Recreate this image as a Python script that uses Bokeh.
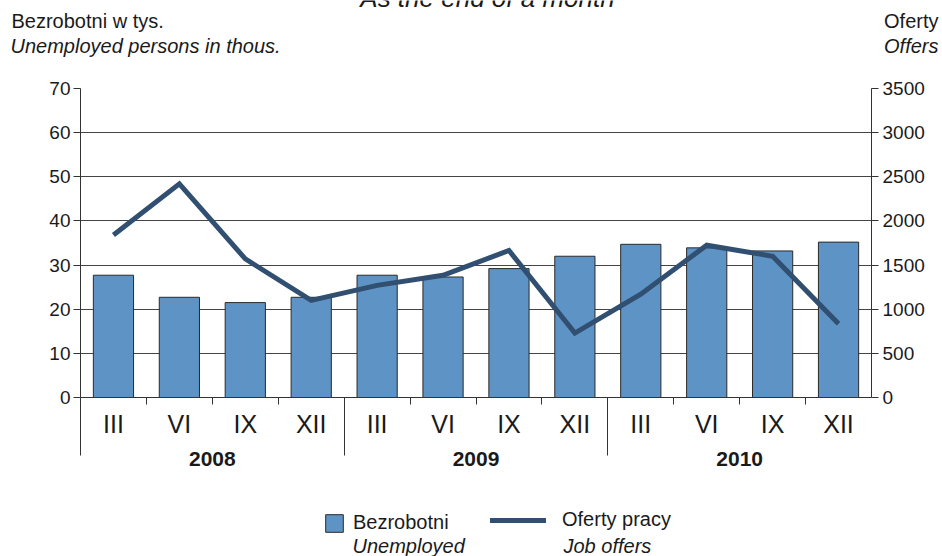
from bokeh.plotting import figure
from bokeh.layouts import column
from bokeh.models import (Range1d, LinearAxis, FixedTicker, Label,
                          Legend, LegendItem, ColumnDataSource)
from bokeh.embed import file_html
from bokeh.resources import INLINE

# ---------------- data ----------------
years = ["2008", "2009", "2010"]
months = ["III", "VI", "IX", "XII"]
unemployed = [27.7, 22.7, 21.5, 22.7, 27.7, 27.3, 29.2, 32.0, 34.7, 33.9, 33.2, 35.2]
offers = [1840, 2420, 1570, 1100, 1270, 1385, 1665, 730, 1170, 1725, 1600, 835]
left_ticks = [0, 10, 20, 30, 40, 50, 60, 70]
right_ticks = [0, 500, 1000, 1500, 2000, 2500, 3000, 3500]

# ---------------- layout (page pixel coordinates) ----------------
W, H = 942, 556
FX0, FX1, FY0, FY1 = 80, 871, 88, 397
TOP_END = 76
MAIN_END = 488
NCAT = len(years) * len(months)

BAR = "#5E93C5"
LINE = "#314F70"
TXT = "#1a1a1a"
AX = "#333333"
FONT = "Liberation Sans"


def blank_fig(y0, y1):
    f = figure(width=W, height=y1 - y0, output_backend="svg",
               toolbar_location=None, x_axis_type=None, y_axis_type=None,
               x_range=Range1d(0, W), y_range=Range1d(y1, y0),
               min_border=0, frame_align=False)
    f.outline_line_color = None
    f.grid.visible = False
    f.background_fill_color = "white"
    f.border_fill_color = "white"
    return f


def lab(f, text, px, py, align="left", style="normal", size="20px",
        base="middle"):
    f.add_layout(Label(x=px, y=py, text=text, text_align=align,
                       text_baseline=base, text_font=FONT,
                       text_font_size=size, text_font_style=style,
                       text_color=TXT))


# ---------------- header ----------------
top = blank_fig(0, TOP_END)
lab(top, "As the end of a month", 487, -3, align="center", style="italic",
    size="26px", base="alphabetic")
lab(top, "Bezrobotni w tys.", 11, 20)
lab(top, "Unemployed persons in thous.", 10, 45, style="italic")
lab(top, "Oferty", 938, 20, align="right")
lab(top, "Offers", 938, 45, align="right", style="italic")

# ---------------- main chart ----------------
p = figure(width=W, height=MAIN_END - TOP_END, output_backend="svg",
           toolbar_location=None, frame_align=False,
           x_range=Range1d(0, NCAT), y_range=Range1d(0, left_ticks[-1]),
           min_border_left=FX0, min_border_right=W - FX1,
           min_border_top=FY0 - TOP_END, min_border_bottom=MAIN_END - FY1)
p.outline_line_color = None
p.background_fill_color = "white"
p.border_fill_color = "white"
p.extra_y_ranges = {"off": Range1d(0, right_ticks[-1])}

p.xgrid.visible = False
p.ygrid.ticker = FixedTicker(ticks=left_ticks)
p.ygrid.grid_line_color = "#444444"
p.ygrid.grid_line_width = 1


def style_y(a, standoff):
    a.major_tick_out = 7
    a.major_tick_in = 0
    a.minor_tick_out = 0
    a.axis_line_color = AX
    a.major_tick_line_color = AX
    a.major_label_text_font = FONT
    a.major_label_text_font_size = "19px"
    a.major_label_text_color = TXT
    a.major_label_standoff = standoff


ya = p.yaxis[0]
ya.ticker = FixedTicker(ticks=left_ticks)
style_y(ya, 3)

ra = LinearAxis(y_range_name="off", ticker=FixedTicker(ticks=right_ticks))
style_y(ra, 4)
p.add_layout(ra, "right")

# month axis (next to frame)
xc = [i + 0.5 for i in range(NCAT)]
year_bounds = [i * len(months) for i in range(len(years))]
month_bounds = [i for i in range(1, NCAT) if i % len(months) != 0]
xa = p.xaxis[0]
xa.ticker = FixedTicker(ticks=xc, minor_ticks=month_bounds)
xa.major_label_overrides = {c: m for c, m in zip(xc, months * len(years))}
xa.major_tick_out = 7
xa.major_tick_in = 0
xa.major_tick_line_color = None
xa.minor_tick_out = 7
xa.minor_tick_in = 0
xa.axis_line_color = AX
xa.minor_tick_line_color = AX
xa.major_label_text_font = FONT
xa.major_label_text_font_size = "25px"
xa.major_label_text_color = TXT
xa.major_label_standoff = 5

# year axis with long separators
year_centers = [b + len(months) / 2 for b in year_bounds]
yx = LinearAxis(ticker=FixedTicker(ticks=year_centers, minor_ticks=year_bounds))
yx.major_label_overrides = {c: y for c, y in zip(year_centers, years)}
yx.axis_line_color = None
yx.major_tick_out = 15
yx.major_tick_in = 0
yx.major_tick_line_color = None
yx.minor_tick_in = 43
yx.minor_tick_out = 15
yx.minor_tick_line_color = AX
yx.major_label_text_font = FONT
yx.major_label_text_font_size = "21px"
yx.major_label_text_font_style = "bold"
yx.major_label_text_color = TXT
yx.major_label_standoff = -4
p.add_layout(yx, "below")

src = ColumnDataSource(dict(x=xc, u=unemployed, o=offers))
p.vbar(x="x", top="u", width=0.61, source=src, fill_color=BAR,
       line_color="#2a2a2a", line_width=1)
p.line(x="x", y="o", source=src, y_range_name="off", line_color=LINE,
       line_width=5, line_join="miter")

# ---------------- legend ----------------
leg = blank_fig(MAIN_END, H)
# the same series, mapped onto ranges that keep them out of view, give the
# legend swatches a renderer to take their style from
leg.extra_x_ranges = {"hide": Range1d(1000, 2000)}
leg.extra_y_ranges = {"hide": Range1d(1000, 2000)}
lb = leg.vbar(x="x", top="u", source=src, width=0.61, fill_color=BAR,
              line_color="#2a2a2a", line_width=1,
              x_range_name="hide", y_range_name="hide")
ll = leg.line(x="x", y="o", source=src, line_color=LINE, line_width=5,
              line_cap="round", x_range_name="hide", y_range_name="hide")
common = dict(orientation="horizontal", glyph_height=22, padding=0, margin=0,
              border_line_color=None, background_fill_alpha=0,
              label_text_font=FONT, label_text_font_size="20px",
              label_text_color=TXT, label_height=22)
leg1 = Legend(items=[LegendItem(label="Bezrobotni", renderers=[lb])],
              location=(323, H - 534), glyph_width=22,
              label_standoff=8, **common)
leg2 = Legend(items=[LegendItem(label="Oferty pracy", renderers=[ll])],
              location=(490, H - 531), glyph_width=56,
              label_standoff=16, **common)
leg.add_layout(leg1, "center")
leg.add_layout(leg2, "center")
lab(leg, "Unemployed", 352, 545, style="italic")
lab(leg, "Job offers", 563, 545, style="italic")

layout = column(top, p, leg, spacing=0)
open("out.html", "w").write(file_html(layout, INLINE))
